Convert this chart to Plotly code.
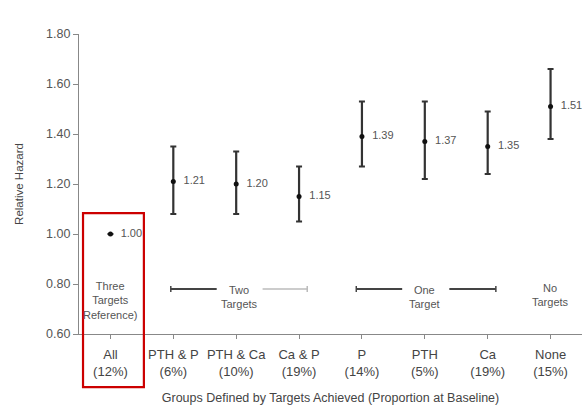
import plotly.graph_objects as go

categories = ["All<br>(12%)", "PTH & P<br>(6%)", "PTH & Ca<br>(10%)", "Ca & P<br>(19%)",
              "P<br>(14%)", "PTH<br>(5%)", "Ca<br>(19%)", "None<br>(15%)"]
hazard = [1.00, 1.21, 1.20, 1.15, 1.39, 1.37, 1.35, 1.51]
ci_low = [1.00, 1.08, 1.08, 1.05, 1.27, 1.22, 1.24, 1.38]
ci_high = [1.00, 1.35, 1.33, 1.27, 1.53, 1.53, 1.49, 1.66]
value_labels = ["1.00", "1.21", "1.20", "1.15", "1.39", "1.37", "1.35", "1.51"]
y_ticks = [0.6, 0.8, 1.0, 1.2, 1.4, 1.6, 1.8]

FONT = "Liberation Sans, Arial, sans-serif"
err_plus = [h2 - h for h, h2 in zip(hazard, ci_high)]
err_minus = [h - l for h, l in zip(hazard, ci_low)]

fig = go.Figure()
fig.add_trace(go.Scatter(
    x=list(range(len(categories))), y=hazard,
    mode="markers+text",
    marker=dict(color="#111111", size=5, symbol="circle"),
    error_y=dict(type="data", symmetric=False, array=err_plus, arrayminus=err_minus,
                 color="#333333", thickness=2.2, width=3),
    text=["  " + t for t in value_labels], textposition="middle right",
    textfont=dict(family=FONT, size=11, color="#555555"),
    cliponaxis=False, showlegend=False, hoverinfo="skip",
))

shapes = []
bracket_y = 0.78
cap = 0.012
def seg(x0, x1, color):
    shapes.append(dict(type="line", xref="x", yref="y", x0=x0, x1=x1, y0=bracket_y, y1=bracket_y,
                       line=dict(color=color, width=2)))
def capline(x, color):
    shapes.append(dict(type="line", xref="x", yref="y", x0=x, x1=x, y0=bracket_y - cap, y1=bracket_y + cap,
                       line=dict(color=color, width=1.5)))

seg(0.96, 1.69, "#444444"); capline(0.96, "#444444")
seg(2.42, 3.13, "#cccccc"); capline(3.13, "#bbbbbb")
seg(3.91, 4.64, "#444444"); capline(3.91, "#444444")
seg(5.39, 6.13, "#444444"); capline(6.13, "#444444")

# red highlight box
shapes.append(dict(type="rect", xref="paper", yref="paper", x0=0.008, x1=0.129, y0=-0.177, y1=0.403,
                   line=dict(color="#cc0000", width=2.2), fillcolor="rgba(0,0,0,0)"))

annos = []
def label(x, y, txt):
    annos.append(dict(x=x, y=y, xref="x", yref="y", text=txt, showarrow=False,
                      font=dict(family=FONT, size=11, color="#555555"), align="center"))
label(0, 0.735, "Three<br>Targets<br>Reference)")
label(2.06, 0.75, "Two<br>Targets")
label(5.0, 0.75, "One<br>Target")
label(7.0, 0.755, "No<br>Targets")

fig.update_layout(
    width=582, height=405,
    margin=dict(l=79, r=0, t=34, b=71),
    plot_bgcolor="white", paper_bgcolor="white",
    font=dict(family=FONT, color="#444444"),
    shapes=shapes, annotations=annos,
    xaxis=dict(
        range=[-0.5, 7.5], tickmode="array", tickvals=list(range(len(categories))),
        ticktext=categories, tickson="boundaries", ticks="outside", ticklen=4,
        tickcolor="#888888", showline=True, linecolor="#888888", linewidth=1.2,
        showgrid=False, zeroline=False, tickfont=dict(family=FONT, size=13, color="#444444"),
        ticklabelstandoff=4,
        title=dict(text="Groups Defined by Targets Achieved (Proportion at Baseline)",
                   font=dict(family=FONT, size=12.5, color="#444444"), standoff=16),
    ),
    yaxis=dict(
        range=[0.6, 1.8], tickmode="array", tickvals=y_ticks,
        ticktext=[f"{v:.2f}" for v in y_ticks], ticks="outside", ticklen=5,
        tickcolor="#888888", showline=True, linecolor="#888888", linewidth=1.2,
        showgrid=False, zeroline=False, tickfont=dict(family=FONT, size=12.5, color="#555555"),
        title=dict(text="Relative Hazard", font=dict(family=FONT, size=11.5, color="#444444"), standoff=20),
    ),
)
fig.write_html("out.html")
